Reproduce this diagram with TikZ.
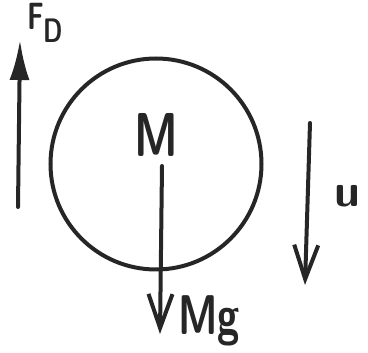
\documentclass[tikz,border=0pt]{standalone}
\usetikzlibrary{arrows.meta}
\newcommand{\narrow}[1]{\scalebox{0.72}[1]{#1}}
\begin{document}
\begin{tikzpicture}[x=1pt,y=-1pt,
  stroke/.style={line width=4pt,line cap=round,black!85},
  lbl/.style={font=\sffamily\bfseries\fontsize{56}{56}\selectfont,black!85,inner sep=0pt},
  solidtip/.style={-{Latex[length=40pt,width=20pt]}},
  opentip/.style={-{Straight Barb[length=34pt,width=24pt,line width=4pt]}}]
\useasboundingbox (0,0) rectangle (368,353);
% body
\node[draw,stroke,circle,minimum size=211pt,inner sep=0pt] (body) at (156,164) {};
% labels
\node[lbl,font=\sffamily\bfseries\fontsize{62}{62}\selectfont,anchor=base] (m) at (156,157) {\narrow{M}};
\node[lbl,anchor=base west] (mg) at (178,335) {\narrow{Mg}};
\node[lbl,font=\sffamily\bfseries\fontsize{38}{38}\selectfont,anchor=base west] (fd) at (27,30) {\narrow{F}\raisebox{-13pt}{\fontsize{34}{34}\selectfont\narrow{D}}};
\node[lbl,font=\sffamily\bfseries\fontsize{46}{46}\selectfont,anchor=base] (u) at (347,207) {u};
% arrow coordinates
\coordinate (fdS) at (18,207);
\coordinate (fdT) at (20,40);
\coordinate (mgS) at (162,166);
\coordinate (mgT) at (160,334);
\coordinate (uS) at (310,123);
\coordinate (uT) at (305,285);
% arrows
\draw[stroke,solidtip] (fdS) -- (fdT);
\draw[stroke,opentip] (mgS) -- (mgT);
\draw[stroke,opentip] (uS) -- (uT);
\end{tikzpicture}
\end{document}
